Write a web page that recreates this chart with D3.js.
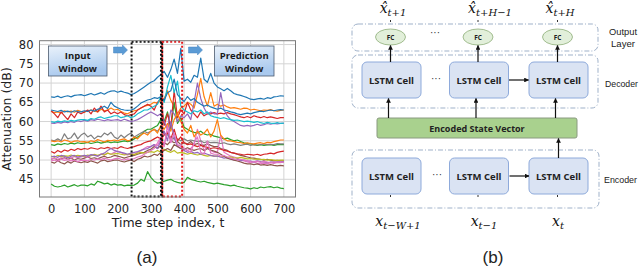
<!DOCTYPE html>
<html><head><meta charset="utf-8">
<script src="https://cdn.jsdelivr.net/npm/d3@7"></script>
<style>body{margin:0;background:#fff}svg{display:block}</style>
</head><body>
<script>
// ---------- DATA ----------
const timeSteps = d3.range(0, 701, 10);
const xTickValues = [0,100,200,300,400,500,600,700];
const yTickValues = [45,50,55,60,65,70,75,80];
const inputWindow = [242, 334];
const predictionWindow = [334, 394];

const blueTop = [66.4,66.3,66.6,66.2,66.5,66.7,66.4,66.8,66.9,67.0, 66.7,67.0,67.3,66.9,67.2,67.5,67.1,67.6,67.9,68.0, 67.6,67.9,67.6,67.4,67.0,67.3,67.8,68.4,69.0,69.6, 70.2,70.6,71.5,72.2,73.0,71.5,73.5,76.2,72.5,79.0, 70.5,71.0,70.2,72.0,71.5,76.5,71.0,70.2,72.5,70.0, 69.0,68.5,68.0,68.6,68.0,67.3,67.0,66.8,66.5,66.2, 65.8,65.7,65.9,66.0,65.8,66.2,66.0,66.4,66.5,66.7, 66.6];
const blueMid = [63.0,62.8,62.6,62.9,62.5,62.7,62.4,62.8,62.6,62.5, 62.8,62.6,63.0,62.7,63.2,63.5,64.0,63.4,65.0,64.0, 63.6,63.2,63.0,62.9,63.0,63.3,64.0,64.8,65.2,65.6, 65.8,66.2,66.0,66.5,65.5,67.5,68.0,71.0,67.0,66.0, 65.2,66.5,65.5,66.0,65.0,64.5,64.0,64.3,63.8,63.5, 63.2,63.5,63.0,62.8,62.5,62.3,62.0,61.8,62.0,62.2, 62.0,62.3,62.5,62.7,62.6,62.8,63.0,62.8,63.0,63.1, 63.0];
const orangeHigh = [62.6,62.3,62.5,62.2,62.8,62.5,62.7,62.4,62.9,62.6, 62.4,62.8,63.0,62.7,62.5,63.2,62.8,63.0,63.5,63.0, 63.2,62.6,62.2,62.0,62.5,62.8,63.0,63.5,64.0,64.2, 64.5,65.0,64.8,65.5,66.0,68.0,65.5,64.0,62.0,63.5, 64.0,65.0,64.5,63.5,67.0,71.2,66.5,64.0,67.5,64.0, 64.5,64.0,64.3,63.8,63.5,63.6,63.4,63.2,63.5,63.4, 63.0,63.2,63.0,62.8,63.0,62.9,63.1,62.8,62.7,62.9, 63.0];
const redHigh = [62.8,62.0,61.0,62.5,61.5,60.5,62.0,61.0,62.5,62.0, 62.5,63.0,62.0,63.5,62.5,64.0,62.5,63.0,62.0,62.5, 62.0,62.5,61.8,61.5,61.8,62.0,63.0,63.5,64.0,64.5, 64.0,63.0,65.0,66.0,59.0,62.0,58.5,68.0,61.0,63.0, 62.0,65.0,63.0,62.0,61.0,62.5,61.5,62.0,62.0,62.3, 62.0,62.2,62.0,62.3,62.0,61.8,61.5,61.2,61.0,61.3, 61.0,61.5,61.2,61.0,61.3,61.0,61.2,61.0,60.8,61.0, 61.0];
const cyanLine = [60.0,59.8,60.1,59.9,60.2,60.0,60.3,60.1,60.4,60.5, 60.5,60.3,60.8,60.6,61.0,61.2,60.8,61.0,61.2,61.5, 61.5,61.0,61.2,61.5,61.0,61.3,62.0,62.5,63.0,63.0, 63.5,64.0,64.5,66.5,65.0,69.0,72.0,67.5,70.5,64.0, 63.0,62.5,62.0,62.8,62.5,63.0,62.0,62.5,61.5,61.2, 61.0,60.8,61.0,60.7,60.5,60.3,60.4,60.2,60.0,60.1, 60.0,59.8,60.0,59.7,59.5,59.8,59.6,59.5,59.7,59.5, 59.6];
const purpleHigh = [59.6,59.5,59.8,59.6,59.9,59.7,60.0,59.8,60.2,60.0, 60.3,60.1,60.5,60.3,60.6,60.4,60.2,60.5,60.3,60.4, 60.5,60.2,60.6,60.3,60.0,60.2,60.5,61.0,61.5,62.0, 62.5,62.0,61.5,62.0,60.0,58.0,63.0,62.0,60.0,61.5, 61.0,62.0,60.5,65.0,70.0,66.0,63.5,62.0,62.5,62.0, 62.0,67.5,63.0,61.5,60.5,60.0,59.5,59.0,58.8,59.0, 58.8,59.0,59.3,59.0,59.2,59.5,59.3,59.5,59.4,59.5, 59.5];
const grayLine = [55.2,55.0,55.5,55.0,56.8,55.5,55.8,57.0,55.5,56.5, 57.0,56.0,56.5,55.5,56.2,56.0,57.0,56.5,57.2,56.0, 55.5,56.5,55.8,56.5,57.0,56.0,56.5,57.0,57.5,57.0, 57.5,58.0,57.5,58.5,57.0,56.5,56.0,55.5,55.5,55.0, 55.5,55.0,55.2,55.0,54.8,55.0,54.5,54.8,54.5,54.6, 54.5,54.3,54.5,54.2,54.0,54.2,54.0,53.8,54.0,54.1, 53.8,54.0,53.9,54.0,54.2,54.0,54.1,54.0,54.3,54.2, 54.2];
const orangeLow = [55.0,54.8,55.0,54.7,55.2,55.0,54.6,54.9,55.0,54.7, 54.8,54.6,55.0,54.8,55.3,55.0,54.7,55.1,55.0,55.2, 55.0,55.3,55.5,55.0,55.2,56.0,55.5,56.5,57.0,56.5, 57.5,58.0,57.0,59.0,58.0,59.5,57.5,60.5,62.0,60.0, 58.0,57.0,59.0,56.0,57.5,56.5,57.0,58.0,56.0,57.5, 60.5,56.5,55.5,55.0,55.0,54.8,54.6,54.5,54.3,54.5, 54.3,54.2,54.4,54.5,54.3,54.6,54.5,54.8,55.0,55.2, 55.2];
const greenMid = [54.0,53.8,54.2,54.0,54.3,54.1,54.4,54.2,54.5,54.3, 54.4,54.6,54.3,54.5,54.7,54.4,54.6,54.8,54.5,54.7, 54.6,54.8,55.0,54.8,55.0,55.5,56.0,56.5,57.5,58.0, 58.0,58.5,59.0,60.5,60.0,62.5,58.0,65.0,59.5,61.0, 58.5,58.0,57.5,57.2,57.0,57.5,56.8,56.5,56.7,56.2, 56.0,55.8,55.5,55.7,55.3,55.0,55.2,54.8,54.5,54.3, 54.2,54.0,53.8,54.0,53.8,53.9,54.0,53.8,54.0,54.0, 54.0];
const redLow = [52.2,51.8,52.5,52.0,52.6,52.3,52.8,52.5,53.0,52.7, 53.0,52.8,53.2,53.0,52.8,53.2,53.0,53.3,53.0,53.2, 53.0,53.5,53.2,53.0,53.3,53.5,53.8,54.0,54.5,54.8, 55.0,55.5,56.0,55.5,56.5,57.0,55.5,58.0,55.0,56.0, 54.5,54.0,54.2,53.8,53.5,53.8,53.5,53.3,53.0,53.2, 53.0,52.8,52.5,52.3,52.0,51.8,51.6,51.5,51.3,51.5, 51.4,51.3,51.5,51.2,51.5,51.6,51.8,51.6,52.0,52.2, 52.3];
const oliveLine = [51.0,50.8,51.2,50.9,51.1,51.0,51.3,51.0,51.2,51.1, 51.0,51.3,51.1,51.4,51.2,51.5,51.3,51.8,51.5,51.6, 51.7,51.5,51.3,51.5,51.6,51.4,51.8,52.0,51.8,52.0, 52.2,52.0,52.5,52.0,52.8,52.3,52.0,52.5,51.8,52.0, 51.8,51.5,51.8,51.5,51.3,51.5,51.2,51.0,51.2,51.0, 51.0,50.8,51.0,50.7,50.8,50.6,50.5,50.7,50.5,50.3, 50.4,50.2,50.3,50.1,50.2,50.0,50.1,50.0,49.9,50.0, 50.0];
const purpleLow = [50.8,51.0,50.7,51.2,51.0,50.6,51.0,51.2,50.8,51.0, 51.2,51.0,51.4,51.2,51.0,51.5,51.8,52.5,53.0,52.5, 52.2,52.0,51.8,51.5,51.8,52.0,52.2,52.5,52.8,53.0, 53.5,54.0,53.0,55.0,57.5,55.0,60.0,56.0,53.5,53.0, 52.5,52.0,52.3,51.8,52.0,51.5,51.8,51.5,51.2,51.0, 51.0,50.8,50.5,50.6,50.3,50.0,50.2,49.8,50.0,49.8, 49.7,49.5,49.8,49.6,49.5,49.3,49.5,49.4,49.5,49.6, 49.5];
const pinkHigh = [50.3,50.5,50.2,50.6,50.4,50.8,50.5,50.9,50.6,50.8, 51.0,50.7,51.2,51.5,51.0,51.6,51.3,51.8,51.5,52.0, 52.3,52.0,51.5,51.3,51.6,51.5,52.0,52.5,53.0,53.5, 53.5,54.0,53.8,55.5,54.0,57.5,54.5,56.0,53.5,54.0, 53.0,52.5,53.0,54.0,58.0,55.0,52.5,53.0,52.5,52.0, 52.0,56.5,52.0,51.5,51.0,50.8,50.5,50.0,49.8,49.5, 49.3,49.5,49.2,49.0,49.2,49.0,49.3,49.1,49.4,49.3, 49.5];
const pinkLow = [49.8,50.0,49.7,50.2,49.9,50.1,49.8,50.0,49.6,49.9, 50.0,49.8,50.2,50.0,50.3,50.1,50.5,50.2,50.0,50.3, 50.5,50.2,50.0,50.3,50.1,50.4,50.8,51.0,51.5,52.0, 52.5,53.0,54.5,56.0,53.5,59.0,55.0,57.0,54.0,53.5, 53.0,52.5,52.0,54.5,56.0,52.0,51.5,55.0,51.8,51.5, 51.5,51.0,51.2,50.8,50.5,50.3,50.0,50.2,50.0,49.8, 49.6,49.5,49.7,49.4,49.6,49.5,49.3,49.5,49.4,49.5, 49.4];
const brownLow = [49.5,49.2,49.8,49.3,49.0,49.6,49.2,49.8,49.5,49.3, 49.6,49.4,49.8,49.5,49.2,49.8,50.0,49.6,49.8,50.0, 50.0,49.7,49.5,49.8,50.0,49.6,50.2,50.5,51.0,50.8, 51.0,51.5,51.2,52.0,52.5,53.0,52.5,54.0,53.5,53.0, 52.8,53.2,52.8,52.5,52.8,53.0,52.5,53.0,52.6,52.3, 52.0,51.5,51.0,50.5,50.2,50.0,49.8,49.5,49.2,49.0, 49.0,48.8,49.0,48.7,48.8,48.6,48.8,48.6,48.5,48.6, 48.5];
const brownMid = [50.2,50.5,50.0,50.3,50.6,50.2,50.5,50.0,50.4,50.2, 50.5,50.8,50.4,50.6,50.3,50.7,51.0,50.6,50.8,51.2, 51.0,50.8,50.5,50.8,51.0,51.2,51.5,51.8,52.0,52.5, 52.8,53.5,53.0,53.8,54.5,54.0,55.0,54.5,54.8,54.0, 54.5,54.2,54.8,54.0,54.3,54.0,53.8,54.2,53.8,53.5, 53.5,53.0,52.8,52.5,52.0,51.8,51.5,51.2,51.0,50.8, 50.6,50.5,50.3,50.2,50.0,50.2,50.0,49.8,49.9,49.8, 49.8];
const greenLow = [43.8,43.2,43.0,43.2,43.5,43.0,43.3,43.6,43.2,43.5, 43.5,43.3,43.8,43.5,44.5,44.2,43.8,44.0,43.5,43.8, 43.5,43.6,43.3,43.5,43.4,43.5,44.0,45.0,44.5,47.0, 45.5,44.5,44.0,44.2,44.5,44.8,45.0,44.5,44.2,44.0, 44.2,45.5,45.0,44.8,44.5,44.3,44.5,44.2,44.0,43.8, 44.0,43.8,43.6,43.5,43.3,43.5,43.2,43.0,42.8,42.7, 42.5,42.8,42.6,43.0,42.8,43.0,43.1,42.8,43.0,42.7, 42.6];

const seriesList = [
  {values: blueTop, color: "#1f77b4"},
  {values: orangeHigh, color: "#ff7f0e"},
  {values: greenMid, color: "#2ca02c"},
  {values: redHigh, color: "#d62728"},
  {values: purpleHigh, color: "#9467bd"},
  {values: brownMid, color: "#8c564b"},
  {values: pinkHigh, color: "#e377c2"},
  {values: grayLine, color: "#7f7f7f"},
  {values: oliveLine, color: "#bcbd22"},
  {values: cyanLine, color: "#17becf"},
  {values: blueMid, color: "#1f77b4"},
  {values: orangeLow, color: "#ff7f0e"},
  {values: greenLow, color: "#2ca02c"},
  {values: redLow, color: "#d62728"},
  {values: purpleLow, color: "#9467bd"},
  {values: brownLow, color: "#8c564b"},
  {values: pinkLow, color: "#e377c2"}
];

// ---------- CHART (a) ----------
const W = 640, H = 271;
const svg = d3.select("body").append("svg").attr("width", W).attr("height", H);
const defs = svg.append("defs");
const grad = defs.append("linearGradient").attr("id","boxGrad").attr("x1","0").attr("y1","0").attr("x2","0.3").attr("y2","1");
grad.append("stop").attr("offset","0%").attr("stop-color","#eaf2fb");
grad.append("stop").attr("offset","100%").attr("stop-color","#a9c9ee");

const plot = {l: 39.5, r: 295.5, t: 40.7, b: 197};
const x = d3.scaleLinear().domain([-35, 735]).range([plot.l, plot.r]);
const y = d3.scaleLinear().domain([40.4, 81]).range([plot.b, plot.t]);

const g = svg.append("g");
// grid
g.append("g").selectAll("line").data(xTickValues).join("line")
  .attr("x1", d => x(d)).attr("x2", d => x(d)).attr("y1", plot.t).attr("y2", plot.b)
  .attr("stroke", "#d4d4d4").attr("stroke-width", 1);
g.append("g").selectAll("line").data(yTickValues).join("line")
  .attr("y1", d => y(d)).attr("y2", d => y(d)).attr("x1", plot.l).attr("x2", plot.r)
  .attr("stroke", "#d4d4d4").attr("stroke-width", 1);

defs.append("clipPath").attr("id","plotClip").append("rect")
  .attr("x", plot.l).attr("y", plot.t).attr("width", plot.r-plot.l).attr("height", plot.b-plot.t);

const line = d3.line().x((d,i) => x(timeSteps[i])).y(d => y(d));
g.append("g").attr("clip-path","url(#plotClip)").selectAll("path").data(seriesList).join("path")
  .attr("d", d => line(d.values)).attr("fill","none").attr("stroke", d => d.color)
  .attr("stroke-width", 1.2).attr("stroke-linejoin","round");

// windows
function dottedRect(range, color){
  g.append("rect").attr("x", x(range[0])).attr("y", plot.t+1).attr("width", x(range[1])-x(range[0]))
   .attr("height", plot.b-plot.t-1.5).attr("fill","none").attr("stroke", color)
   .attr("stroke-width", 2).attr("stroke-dasharray","2,2");
}
dottedRect(inputWindow, "#111");
dottedRect(predictionWindow, "#e41a1c");
g.append("line").attr("x1", x(inputWindow[1])-1.2).attr("x2", x(inputWindow[1])-1.2).attr("y1", plot.t+1).attr("y2", plot.b)
  .attr("stroke","#111").attr("stroke-width",2).attr("stroke-dasharray","2,2");

// frame
g.append("rect").attr("x", plot.l).attr("y", plot.t).attr("width", plot.r-plot.l).attr("height", plot.b-plot.t)
  .attr("fill","none").attr("stroke","#7a7a7a").attr("stroke-width",1);

// axes
const xAxis = d3.axisBottom(x).tickValues(xTickValues).tickSize(0).tickPadding(8);
const yAxis = d3.axisLeft(y).tickValues(yTickValues).tickSize(0).tickPadding(6);
const ax = g.append("g").attr("transform", `translate(0,${plot.b})`).call(xAxis);
const ay = g.append("g").attr("transform", `translate(${plot.l},0)`).call(yAxis);
[ax, ay].forEach(a => {
  a.select(".domain").remove();
  a.selectAll("text").attr("font-family","DejaVu Sans").attr("font-size","11.5px").attr("fill","#222");
});

g.append("text").attr("x", 168).attr("y", 227).attr("text-anchor","middle")
  .attr("font-family","DejaVu Sans").attr("font-size","12.5px").attr("fill","#222").text("Time step index, t");
g.append("text").attr("transform","translate(11,119) rotate(-90)").attr("text-anchor","middle")
  .attr("font-family","DejaVu Sans").attr("font-size","12.5px").attr("fill","#222").text("Attenuation (dB)");

// annotation boxes
function labelBox(x0, y0, w, h, lines){
  g.append("rect").attr("x", x0).attr("y", y0).attr("width", w).attr("height", h)
    .attr("fill","url(#boxGrad)").attr("stroke","#4d5b6e").attr("stroke-width",0.8);
  lines.forEach((t,i) => g.append("text").attr("x", x0+w/2).attr("y", y0+h/2 + (i-0.5)*13 + 4)
    .attr("text-anchor","middle").attr("font-family","Open Sans").attr("font-weight","bold")
    .attr("font-size","9.5px").attr("fill","#1a1a1a").text(t));
}
labelBox(48.5, 46, 58.5, 30, ["Input","Window"]);
labelBox(214.5, 46, 59.5, 30, ["Prediction","Window"]);

function blockArrow(x0, yc){
  const p = [[x0, yc-3],[x0+9, yc-3],[x0+9, yc-5],[x0+14, yc],[x0+9, yc+5],[x0+9, yc+3],[x0, yc+3]];
  g.append("path").attr("d", d3.line()(p) + "Z").attr("fill","#5b9bd5").attr("stroke","#4a86c0").attr("stroke-width",0.5);
}
blockArrow(113.5, 50);
blockArrow(188.5, 50);

svg.append("text").attr("x", 147).attr("y", 263).attr("text-anchor","middle")
  .attr("font-family","Liberation Sans").attr("font-size","17px").attr("fill","#222").text("(a)");

// ---------- DIAGRAM (b) ----------
const b = svg.append("g");
defs.append("marker").attr("id","arr").attr("viewBox","0 0 10 10").attr("refX",9).attr("refY",5)
  .attr("markerWidth",4).attr("markerHeight",4).attr("orient","auto")
  .append("path").attr("d","M0,0L10,5L0,10Z").attr("fill","#111");

const dashStyle = "5,2,1,2";
function groupRect(x0,y0,x1,y1){
  b.append("rect").attr("x",x0).attr("y",y0).attr("width",x1-x0).attr("height",y1-y0).attr("rx",6)
   .attr("fill","none").attr("stroke","#9fb1c9").attr("stroke-width",1).attr("stroke-dasharray",dashStyle);
}
groupRect(352, 24, 598, 51);
groupRect(352, 55, 598, 108);
groupRect(352, 150, 599, 208);

const colsX = [391.5, 479, 558.5];
function lstm(cx, y0){
  b.append("rect").attr("x",cx-29.5).attr("y",y0).attr("width",59).attr("height",36).attr("rx",5)
   .attr("fill","#dae3f3").attr("stroke","#8eaadb").attr("stroke-width",1);
  b.append("text").attr("x",cx).attr("y",y0+22).attr("text-anchor","middle")
   .attr("font-family","Open Sans").attr("font-weight","bold").attr("font-size","9.5px").attr("fill","#222").text("LSTM Cell");
}
colsX.forEach(cx => lstm(cx, 62));
colsX.forEach(cx => lstm(cx, 158));

// FC
colsX.forEach(cx => {
  b.append("ellipse").attr("cx",cx-1).attr("cy",37).attr("rx",15).attr("ry",8)
   .attr("fill","#e2efda").attr("stroke","#8fae7a").attr("stroke-width",0.8);
  b.append("text").attr("x",cx-1).attr("y",39.5).attr("text-anchor","middle")
   .attr("font-family","Open Sans").attr("font-weight","bold").attr("font-size","6.5px").attr("fill","#222").text("FC");
});

// Encoded state vector
b.append("rect").attr("x",377).attr("y",118).attr("width",200).attr("height",20).attr("rx",2)
  .attr("fill","#a9d18e").attr("stroke","#8a9a80").attr("stroke-width",1);
b.append("text").attr("x",477).attr("y",131.5).attr("text-anchor","middle")
  .attr("font-family","Open Sans").attr("font-weight","bold").attr("font-size","9px").attr("fill","#222").text("Encoded State Vector");

function arrow(x1,y1,x2,y2,w){
  b.append("line").attr("x1",x1).attr("y1",y1).attr("x2",x2).attr("y2",y2)
   .attr("stroke","#111").attr("stroke-width",w||1.2).attr("marker-end","url(#arr)");
}
colsX.forEach(cx => arrow(cx-1, 62, cx-1, 45.5));
colsX.forEach(cx => arrow(cx-3, 118, cx-3, 98.5));
arrow(558.5, 158, 558.5, 138.5);
arrow(509, 80, 528.5, 80);
arrow(509.5, 176, 529, 176);
colsX.forEach(cx => b.append("line").attr("x1",cx-1).attr("x2",cx-1).attr("y1",22).attr("y2",20).attr("stroke","#333").attr("stroke-width",1));
colsX.forEach(cx => b.append("line").attr("x1",cx-1).attr("x2",cx-1).attr("y1",195).attr("y2",197).attr("stroke","#333").attr("stroke-width",1));

// ellipses "..."
[[435,36],[436,82],[437,178]].forEach(p => b.append("text").attr("x",p[0]).attr("y",p[1]).attr("text-anchor","middle")
  .attr("font-family","Liberation Sans").attr("font-size","10px").attr("fill","#333").text("···"));

// side labels
[["Output",609,35,28],["Layer",611,47,24],["Decoder",605,87,33],["Encoder",604,183,33]].forEach(d =>
  b.append("text").attr("x",d[1]).attr("y",d[2]).attr("textLength",d[3]).attr("lengthAdjust","spacingAndGlyphs")
   .attr("font-family","Liberation Sans").attr("font-size","9.5px").attr("fill","#222").text(d[0]));

// math labels
function mathLabel(cx, yb, hat, sub){
  const t = b.append("text").attr("x",cx).attr("y",yb).attr("text-anchor","middle")
    .attr("font-family","DejaVu Serif").attr("font-style","italic").attr("fill","#111");
  t.append("tspan").attr("font-size","14px").text(hat ? "x\u0302" : "x");
  t.append("tspan").attr("font-size","10px").attr("dy",3).text(sub);
}
mathLabel(393, 13, true, "t+1");
mathLabel(490, 13, true, "t+H\u22121");
mathLabel(560, 13, true, "t+H");
mathLabel(398, 226, false, "t\u2212W+1");
mathLabel(484, 226, false, "t\u22121");
mathLabel(558, 226, false, "t");

svg.append("text").attr("x", 493).attr("y", 263).attr("text-anchor","middle")
  .attr("font-family","Liberation Sans").attr("font-size","17px").attr("fill","#222").text("(b)");
</script>
</body></html>
